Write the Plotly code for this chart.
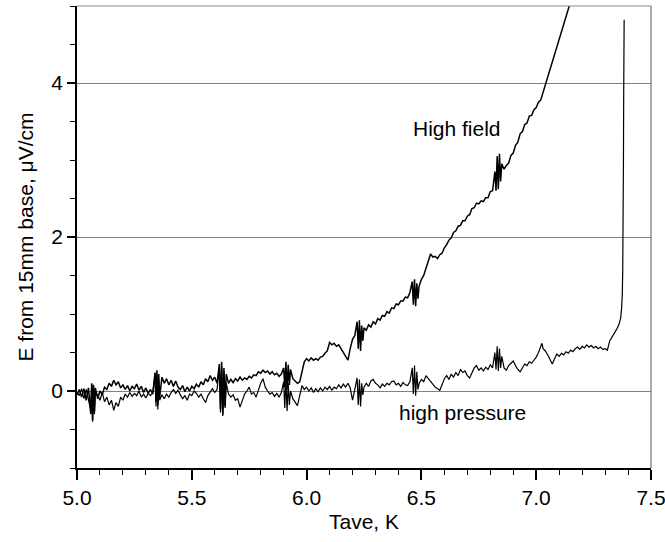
import plotly.graph_objects as go

# ---- High field curve (T in K, E in uV/cm) ----
hf_T = [5.000,5.010,5.020,5.030,5.040,5.050,
        5.060,5.064,5.068,5.072,5.076,5.080,
        5.090,5.100,5.110,5.120,5.130,5.140,5.150,5.160,5.170,5.180,5.190,5.200,5.210,5.220,5.230,5.240,5.250,5.260,5.270,5.280,5.290,5.300,5.310,5.320,5.330,
        5.340,5.344,5.348,5.352,5.356,5.360,
        5.370,5.380,5.390,5.400,5.410,5.420,5.430,5.440,5.450,5.460,5.470,5.480,5.490,5.500,5.510,5.520,5.530,5.540,5.550,5.560,5.570,5.580,5.590,5.600,5.610,
        5.620,5.625,5.630,5.635,5.640,5.645,5.650,
        5.660,5.670,5.680,5.690,5.700,5.710,5.720,5.730,5.740,5.750,5.760,5.770,5.780,5.790,5.800,5.810,5.820,5.830,5.840,5.850,5.860,5.870,5.880,5.890,
        5.900,5.905,5.910,5.915,5.920,5.925,5.930,
        5.940,5.950,5.960,5.970,5.980,5.990,6.000,6.010,6.020,6.030,6.040,6.050,6.060,6.070,6.080,6.090,6.100,6.110,6.120,6.130,6.140,6.150,6.160,6.170,6.180,6.190,6.200,6.210,
        6.220,6.225,6.230,6.235,6.240,6.245,
        6.250,6.260,6.270,6.280,6.290,6.300,6.310,6.320,6.330,6.340,6.350,6.360,6.370,6.380,6.390,6.400,6.410,6.420,6.430,6.440,6.450,
        6.460,6.465,6.470,6.475,6.480,6.485,
        6.490,6.500,6.510,6.516,6.525,6.535,6.540,6.550,6.560,6.570,6.580,6.590,6.600,6.610,6.620,6.630,6.640,6.650,6.660,6.670,6.680,6.690,6.700,6.710,6.720,6.730,6.740,6.750,6.760,6.770,6.780,6.790,6.800,6.810,
        6.820,6.825,6.830,6.835,6.840,6.845,6.850,
        6.860,6.870,6.880,6.890,6.900,6.910,6.920,6.930,6.940,6.950,6.960,6.970,6.980,6.990,7.000,7.010,7.020,7.030,7.040,7.050,7.060,7.070,7.080,7.090,7.100,7.110,7.120,7.130,7.140,7.145]
hf_E = [-0.05,0.02,-0.08,0.03,-0.12,0.04,
        -0.30,0.10,-0.38,0.08,-0.26,0.04,
        -0.10,0.00,-0.05,0.05,0.02,0.10,0.06,0.14,0.08,0.12,0.04,0.08,0.02,0.07,0.00,0.06,0.03,0.09,0.01,0.06,-0.02,0.04,-0.03,0.02,-0.04,
        0.24,-0.14,0.27,-0.18,0.22,-0.08,
        0.18,0.10,0.16,0.08,0.14,0.06,0.13,0.05,0.02,0.07,-0.01,0.05,0.00,0.06,0.03,0.09,0.05,0.12,0.08,0.16,0.12,0.20,0.14,0.18,0.10,
        0.35,-0.24,0.38,-0.32,0.30,-0.20,0.22,
        0.10,0.15,0.11,0.16,0.13,0.18,0.14,0.17,0.15,0.19,0.17,0.21,0.20,0.25,0.23,0.27,0.24,0.26,0.22,0.25,0.21,0.23,0.19,0.22,
        0.30,0.05,0.38,0.02,0.34,0.08,0.28,
        0.16,0.13,0.10,0.12,0.25,0.38,0.42,0.39,0.43,0.40,0.42,0.40,0.44,0.45,0.49,0.52,0.63,0.60,0.62,0.58,0.60,0.55,0.50,0.44,0.40,0.55,0.67,0.72,
        0.90,0.55,0.92,0.52,0.85,0.65,
        0.82,0.79,0.86,0.83,0.90,0.87,0.94,0.92,0.98,0.97,1.03,1.01,1.08,1.07,1.13,1.12,1.17,1.17,1.22,1.21,1.28,
        1.42,1.12,1.45,1.10,1.40,1.20,
        1.36,1.45,1.50,1.56,1.66,1.74,1.78,1.74,1.75,1.72,1.77,1.79,1.86,1.90,1.96,1.99,2.06,2.08,2.14,2.15,2.21,2.21,2.27,2.29,2.37,2.38,2.44,2.43,2.47,2.46,2.51,2.51,2.59,2.60,
        2.85,2.60,3.05,2.62,3.08,2.72,2.95,
        2.88,2.93,2.96,3.06,3.09,3.19,3.23,3.34,3.37,3.46,3.48,3.57,3.58,3.65,3.68,3.75,3.78,3.88,3.98,4.08,4.18,4.28,4.38,4.47,4.57,4.66,4.76,4.85,4.95,5.01]

# ---- High pressure curve ----
hp_T = [5.000,5.010,5.020,5.030,5.040,5.050,
        5.060,5.064,5.068,5.072,5.076,5.080,
        5.090,5.100,5.110,5.120,5.130,5.140,5.150,5.160,5.170,5.180,5.190,5.200,5.210,5.220,5.230,5.240,5.250,5.260,5.270,5.280,5.290,5.300,5.310,5.320,5.330,
        5.340,5.344,5.348,5.352,5.356,5.360,
        5.370,5.380,5.390,5.400,5.410,5.420,5.430,5.440,5.450,5.460,5.470,5.480,5.490,5.500,5.510,5.520,5.530,5.540,5.550,5.560,5.570,5.580,5.590,5.600,5.610,
        5.620,5.625,5.630,5.635,5.640,5.645,5.650,
        5.660,5.670,5.680,5.690,5.700,5.710,5.720,5.730,5.740,5.750,5.760,5.770,5.780,5.790,5.800,5.810,5.820,5.830,5.840,5.850,5.860,5.870,5.880,5.890,
        5.900,5.905,5.910,5.915,5.920,5.925,5.930,
        5.940,5.950,5.960,5.970,5.980,5.990,6.000,6.010,6.020,6.030,6.040,6.050,6.060,6.070,6.080,6.090,6.100,6.110,6.120,6.130,6.140,6.150,6.160,6.170,6.180,6.190,6.200,6.210,
        6.220,6.225,6.230,6.235,6.240,6.245,
        6.250,6.260,6.270,6.280,6.290,6.300,6.310,6.320,6.330,6.340,6.350,6.360,6.370,6.380,6.390,6.400,6.410,6.420,6.430,6.440,6.450,
        6.460,6.465,6.470,6.475,6.480,6.485,
        6.490,6.500,6.510,6.520,6.530,6.540,6.550,6.560,6.570,6.580,6.590,6.600,6.610,6.620,6.630,6.640,6.650,6.660,6.670,6.680,6.690,6.700,6.710,6.720,6.730,6.740,6.750,6.760,6.770,6.780,6.790,6.800,6.810,
        6.820,6.825,6.830,6.835,6.840,6.845,6.850,
        6.860,6.870,6.880,6.890,6.900,6.910,6.920,6.930,6.940,6.950,6.960,6.970,6.980,6.990,7.000,7.010,7.020,7.025,7.030,7.040,7.050,7.060,7.070,7.080,7.090,7.100,7.110,7.120,7.130,7.140,7.150,7.160,7.170,7.180,7.190,7.200,7.210,7.220,7.230,7.240,7.250,7.260,7.270,7.280,7.290,7.300,7.310,
        7.320,7.330,7.340,7.350,7.360,7.368,7.372,7.375,7.377,7.379,7.380,7.381,7.382,7.383]
hp_E = [-0.02,-0.06,0.03,-0.10,0.02,-0.12,
        -0.25,0.08,-0.40,0.05,-0.30,-0.02,
        -0.05,-0.12,-0.02,-0.14,-0.08,-0.18,-0.12,-0.25,-0.15,-0.20,-0.08,-0.12,-0.04,-0.08,-0.02,-0.07,-0.03,-0.06,0.00,-0.08,-0.04,-0.09,-0.03,-0.06,-0.02,
        0.22,-0.20,0.18,-0.24,0.15,-0.12,
        -0.05,-0.10,-0.04,-0.08,-0.02,0.02,-0.03,0.01,-0.05,-0.10,-0.06,-0.12,-0.04,-0.06,0.00,-0.03,-0.08,-0.04,-0.10,-0.15,-0.06,-0.02,0.03,-0.02,0.02,
        0.30,-0.28,0.32,-0.30,0.25,-0.22,0.10,
        -0.04,-0.08,-0.05,-0.12,-0.10,-0.21,-0.12,-0.04,0.00,0.05,-0.04,-0.02,-0.08,0.02,0.10,0.16,0.05,0.00,-0.04,-0.02,-0.07,-0.03,-0.08,-0.02,
        0.12,-0.22,0.15,-0.26,0.10,-0.18,0.00,
        -0.10,-0.15,-0.19,-0.06,0.07,0.02,0.05,0.00,0.04,-0.02,0.03,-0.01,0.04,0.00,0.05,0.02,0.06,0.01,0.05,0.03,0.08,0.04,0.09,0.05,0.10,0.04,-0.12,0.02,
        0.17,-0.18,0.15,-0.20,0.10,-0.05,
        0.05,0.10,0.06,0.13,0.15,0.10,0.08,0.04,0.09,0.06,0.10,0.08,0.12,0.13,0.08,0.10,0.06,0.11,0.08,0.07,0.12,
        0.30,-0.04,0.33,-0.06,0.25,0.02,
        0.10,0.15,0.12,0.20,0.16,0.12,0.08,0.05,0.03,0.01,0.08,0.16,0.20,0.15,0.22,0.18,0.24,0.20,0.28,0.24,0.26,0.20,0.17,0.24,0.30,0.33,0.27,0.30,0.26,0.31,0.28,0.34,0.30,
        0.50,0.28,0.58,0.26,0.55,0.30,0.45,
        0.30,0.27,0.33,0.36,0.39,0.33,0.28,0.25,0.31,0.35,0.33,0.38,0.36,0.40,0.44,0.50,0.58,0.62,0.55,0.52,0.47,0.40,0.35,0.42,0.48,0.45,0.49,0.47,0.51,0.49,0.53,0.51,0.55,0.57,0.54,0.58,0.56,0.60,0.57,0.59,0.56,0.58,0.55,0.57,0.54,0.55,0.53,
        0.65,0.70,0.74,0.80,0.86,0.95,1.08,1.25,1.60,2.20,3.00,3.80,4.40,4.82]

# ---- axes / labels ----
x_range = [5.0, 7.5]
y_range = [-1.0, 5.0]
x_title = "Tave, K"
y_title = "E from 15mm base, \u03bcV/cm"
labels = [("High field", 6.655, 3.41), ("high pressure", 6.677, -0.285)]

FONT = "Arial, Liberation Sans, sans-serif"

fig = go.Figure()
fig.add_trace(go.Scatter(x=hf_T, y=hf_E, mode="lines",
                         line=dict(color="black", width=1.5), name="High field"))
fig.add_trace(go.Scatter(x=hp_T, y=hp_E, mode="lines",
                         line=dict(color="black", width=1.2), name="high pressure"))

for text, lx, ly in labels:
    fig.add_annotation(x=lx, y=ly, text=text, showarrow=False,
                       font=dict(family=FONT, size=21, color="black"))

# gray top/right frame
fig.add_shape(type="line", xref="paper", yref="paper", x0=0, x1=1, y0=1, y1=1,
              line=dict(color="#8a8a8a", width=1))
fig.add_shape(type="line", xref="paper", yref="paper", x0=1, x1=1, y0=0, y1=1,
              line=dict(color="#555555", width=1))

fig.update_layout(
    width=665, height=542,
    margin=dict(l=77, r=14, t=6, b=74),
    plot_bgcolor="white", paper_bgcolor="white",
    showlegend=False,
    font=dict(family=FONT, size=21, color="black"),
    xaxis=dict(range=x_range, tick0=5.0, dtick=0.5, tickformat=".1f",
               automargin=False, ticklabeloverflow="allow",
               ticks="outside", ticklen=10, tickwidth=1.5, tickcolor="black",
               showline=True, linecolor="black", linewidth=1.5,
               showgrid=False, zeroline=False,
               minor=dict(dtick=0.1, ticks="outside", ticklen=5, tickwidth=1.2,
                          tickcolor="black", showgrid=False),
               tickfont=dict(size=21),
               title=dict(text=x_title, font=dict(size=21), standoff=6)),
    yaxis=dict(range=y_range, tick0=0, dtick=2,
               automargin=False,
               ticks="outside", ticklen=8, tickwidth=1.5, tickcolor="black",
               showline=True, linecolor="black", linewidth=1.5,
               showgrid=True, gridcolor="#808080", gridwidth=1, zeroline=False,
               minor=dict(dtick=0.5, ticks="outside", ticklen=5, tickwidth=1.2,
                          tickcolor="black", showgrid=False),
               tickfont=dict(size=21),
               title=dict(text=y_title, font=dict(size=21), standoff=12)),
)

fig.write_html("out.html", config={"displayModeBar": False},
               post_script="document.body.style.margin='0';document.body.style.padding='0';")
